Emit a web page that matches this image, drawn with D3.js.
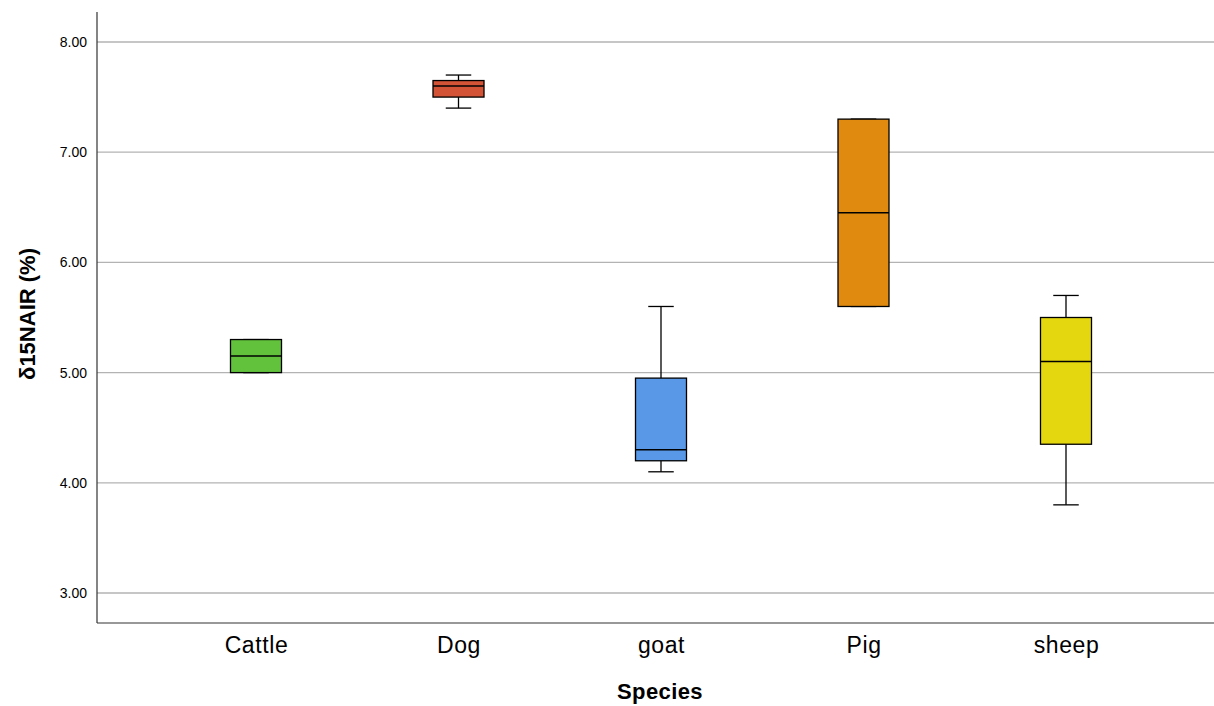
<!DOCTYPE html>
<html>
<head>
<meta charset="utf-8">
<script src="https://cdn.jsdelivr.net/npm/d3@7"></script>
<style>
  body { margin: 0; background: #fff; }
  svg { font-family: "Liberation Sans", Arial, sans-serif; }
</style>
</head>
<body>
<svg id="chart"></svg>
<script>
var width = 1214;
var height = 706;

// box stats
var species = ["Cattle", "Dog", "goat", "Pig", "sheep"];
var whiskerLow = [5.00, 7.40, 4.10, 5.60, 3.80];
var q1 = [5.00, 7.50, 4.20, 5.60, 4.35];
var median = [5.15, 7.60, 4.30, 6.45, 5.10];
var q3 = [5.30, 7.65, 4.95, 7.30, 5.50];
var whiskerHigh = [5.30, 7.70, 5.60, 7.30, 5.70];
var colors = ["#62c23c", "#d35336", "#5898e6", "#e08b10", "#e4d70f"];
var yTicks = [3, 4, 5, 6, 7, 8];

var plotLeft = 97, plotRight = 1214, plotTop = 12, plotBottom = 623;
var boxWidth = 51;

var yScale = d3.scaleLinear()
  .domain([2.728, 8.272])
  .range([plotBottom, plotTop]);

var xScale = d3.scalePoint()
  .domain(species)
  .range([256, 1066]);

var boxes = species.map((s, i) => ({
  name: s, lo: whiskerLow[i], q1: q1[i], med: median[i], q3: q3[i], hi: whiskerHigh[i], color: colors[i]
}));

var svg = d3.select("#chart")
  .attr("width", width)
  .attr("height", height);

// gridlines
svg.append("g")
  .selectAll("line")
  .data(yTicks)
  .enter()
  .append("line")
    .attr("x1", plotLeft)
    .attr("x2", plotRight)
    .attr("y1", d => yScale(d))
    .attr("y2", d => yScale(d))
    .attr("stroke", "#b3b3b3")
    .attr("stroke-width", 1.3);

// y axis
var yAxis = d3.axisLeft(yScale)
  .tickValues(yTicks)
  .tickFormat(d3.format(".2f"))
  .tickSize(0)
  .tickPadding(10);

svg.append("g")
    .attr("transform", `translate(${plotLeft},0)`)
    .call(yAxis)
    .call(g => g.select(".domain").remove())
    .selectAll("text")
      .attr("font-size", 14)
      .attr("font-family", "Liberation Sans, Arial, sans-serif")
      .attr("fill", "#000");

// x axis labels
var xAxis = d3.axisBottom(xScale)
  .tickSize(0)
  .tickPadding(14);

svg.append("g")
    .attr("transform", `translate(0,${plotBottom})`)
    .call(xAxis)
    .call(g => g.select(".domain").remove())
    .selectAll("text")
      .attr("font-size", 23)
      .attr("letter-spacing", "0.6px")
      .attr("font-family", "Liberation Sans, Arial, sans-serif")
      .attr("fill", "#000");

// frame lines (left + bottom)
svg.append("line")
  .attr("x1", plotLeft).attr("x2", plotLeft)
  .attr("y1", plotTop).attr("y2", plotBottom)
  .attr("stroke", "#333").attr("stroke-width", 1.2);
svg.append("line")
  .attr("x1", plotLeft).attr("x2", plotRight)
  .attr("y1", plotBottom).attr("y2", plotBottom)
  .attr("stroke", "#333").attr("stroke-width", 1.2);

// boxes
var g = svg.append("g")
  .selectAll("g")
  .data(boxes)
  .enter()
  .append("g")
    .attr("transform", d => `translate(${xScale(d.name)},0)`);

// whisker stems
g.append("line")
  .attr("x1", 0).attr("x2", 0)
  .attr("y1", d => yScale(d.hi))
  .attr("y2", d => yScale(d.q3))
  .attr("stroke", "#000").attr("stroke-width", 1.3);
g.append("line")
  .attr("x1", 0).attr("x2", 0)
  .attr("y1", d => yScale(d.q1))
  .attr("y2", d => yScale(d.lo))
  .attr("stroke", "#000").attr("stroke-width", 1.3);

// caps
g.selectAll(".cap")
  .data(d => [d.lo, d.hi])
  .enter()
  .append("line")
    .attr("class", "cap")
    .attr("x1", -boxWidth / 4).attr("x2", boxWidth / 4)
    .attr("y1", d => yScale(d))
    .attr("y2", d => yScale(d))
    .attr("stroke", "#000").attr("stroke-width", 1.3);

g.append("rect")
  .attr("x", -boxWidth / 2)
  .attr("width", boxWidth)
  .attr("y", d => yScale(d.q3))
  .attr("height", d => yScale(d.q1) - yScale(d.q3))
  .attr("fill", d => d.color)
  .attr("stroke", "#000")
  .attr("stroke-width", 1.3);

g.append("line")
  .attr("x1", -boxWidth / 2).attr("x2", boxWidth / 2)
  .attr("y1", d => yScale(d.med))
  .attr("y2", d => yScale(d.med))
  .attr("stroke", "#000").attr("stroke-width", 1.5);

// axis titles
svg.append("text")
  .attr("x", 660)
  .attr("y", 699)
  .attr("text-anchor", "middle")
  .attr("font-size", 22)
  .attr("letter-spacing", "0.4px")
  .attr("font-weight", "bold")
  .text("Species");

svg.append("text")
  .attr("transform", "translate(35,314) rotate(-90)")
  .attr("text-anchor", "middle")
  .attr("font-size", 22)
  .attr("font-weight", "bold")
  .text("δ15NAIR (%)");
</script>
</body>
</html>
